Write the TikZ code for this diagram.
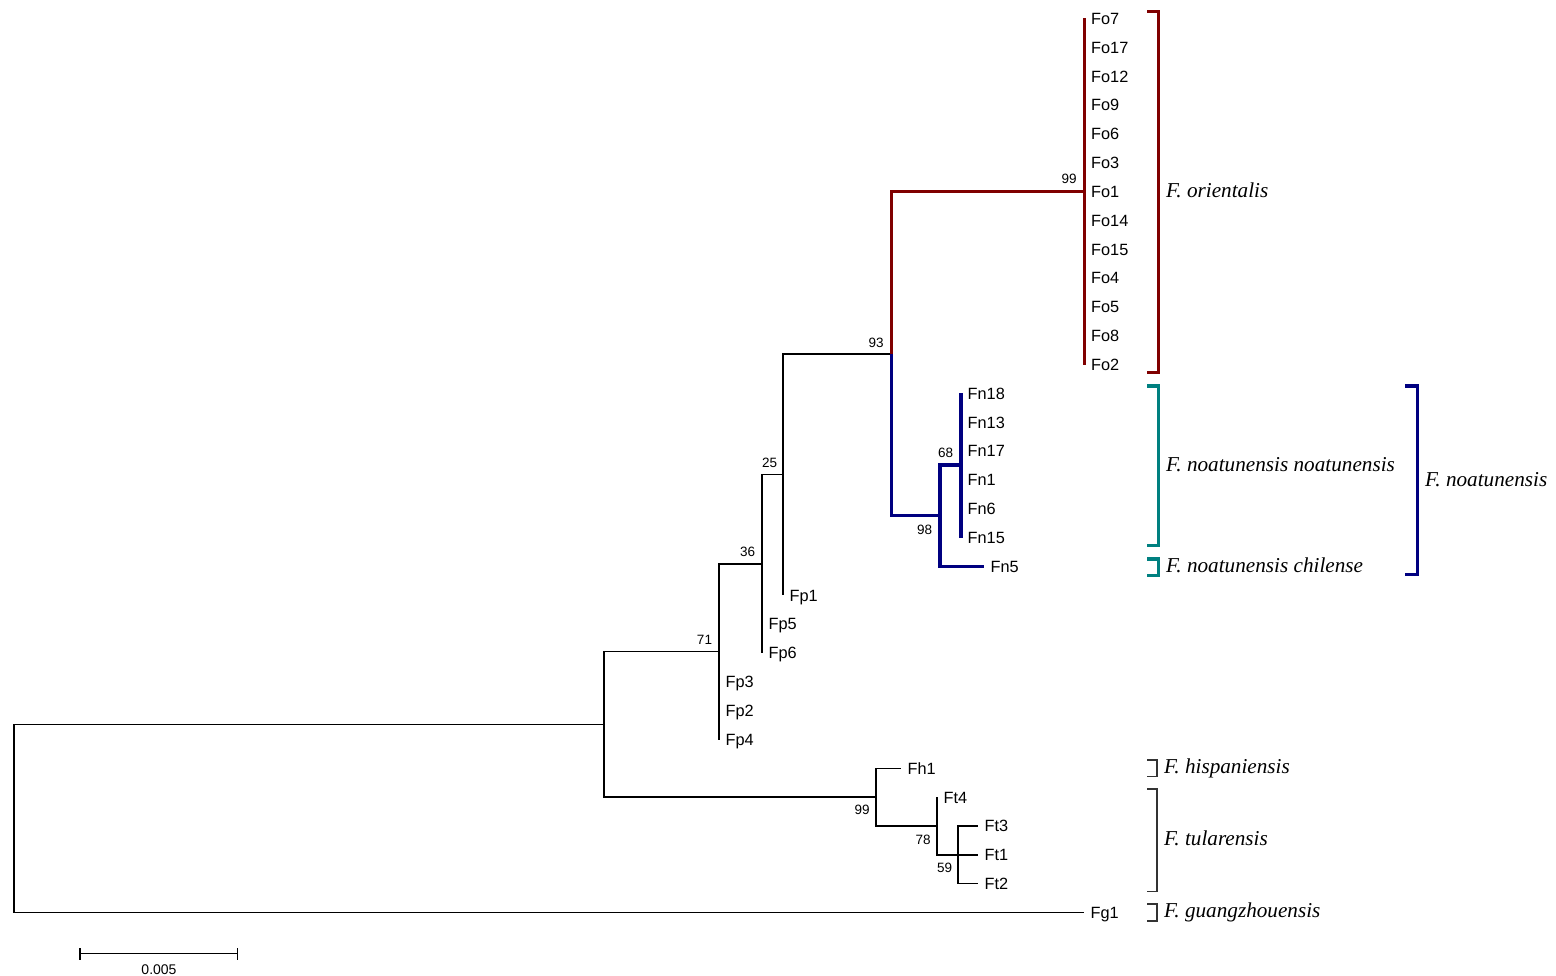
\documentclass[tikz,border=0pt]{standalone}
\usepackage{fontspec}
\setmainfont{Liberation Serif}
\newfontfamily\leaffont{Liberation Sans}
\definecolor{orired}{RGB}{128,0,0}
\definecolor{noablue}{RGB}{0,0,128}
\definecolor{noateal}{RGB}{0,128,128}
\begin{document}
\begin{tikzpicture}[x=1pt,y=-1pt,
  leaf/.style={anchor=west, inner xsep=6.5pt, inner ysep=0pt, text height=11.7pt, text depth=0pt, font=\leaffont\fontsize{16.3}{19}\selectfont},
  boot/.style={inner sep=0pt, font=\leaffont\fontsize{13.5}{16}\selectfont},
  taxon/.style={anchor=base west, inner sep=0pt, font=\itshape\fontsize{21.2}{25}\selectfont},
  branch/.style={line width=1.3pt, black},
  redbranch/.style={line width=3.5pt, orired},
  bluebranch/.style={line width=3.5pt, noablue},
  cbrk/.style={line width=3.5pt},
  kbrk/.style={line width=1.5pt, black!80}
]
\useasboundingbox (0,0) rectangle (1556,976);

% internal nodes
\coordinate (R) at (14,818);
\coordinate (A) at (604,724.3);
\coordinate (B71) at (719,651.3);
\coordinate (C36) at (762,564);
\coordinate (D25) at (783,474.7);
\coordinate (E93) at (891.5,354);
\coordinate (O99) at (1084.5,191.5);
\coordinate (N98) at (940,515.5);
\coordinate (N68) at (961,465);
\coordinate (H99) at (876,797);
\coordinate (T78) at (937,826);
\coordinate (T59) at (958,855);

% leaves
\node[leaf] (Fo7)  at (1084.5,18.5) {Fo7};
\node[leaf] (Fo17) at (1084.5,47.3) {Fo17};
\node[leaf] (Fo12) at (1084.5,76.2) {Fo12};
\node[leaf] (Fo9)  at (1084.5,105.0) {Fo9};
\node[leaf] (Fo6)  at (1084.5,133.9) {Fo6};
\node[leaf] (Fo3)  at (1084.5,162.7) {Fo3};
\node[leaf] (Fo1)  at (1084.5,191.5) {Fo1};
\node[leaf] (Fo14) at (1084.5,220.4) {Fo14};
\node[leaf] (Fo15) at (1084.5,249.2) {Fo15};
\node[leaf] (Fo4)  at (1084.5,278.1) {Fo4};
\node[leaf] (Fo5)  at (1084.5,306.9) {Fo5};
\node[leaf] (Fo8)  at (1084.5,335.7) {Fo8};
\node[leaf] (Fo2)  at (1084.5,364.6) {Fo2};
\node[leaf] (Fn18) at (961,393.4) {Fn18};
\node[leaf] (Fn13) at (961,422.3) {Fn13};
\node[leaf] (Fn17) at (961,451.1) {Fn17};
\node[leaf] (Fn1)  at (961,479.9) {Fn1};
\node[leaf] (Fn6)  at (961,508.8) {Fn6};
\node[leaf] (Fn15) at (961,537.6) {Fn15};
\node[leaf] (Fn5)  at (984,566.5) {Fn5};
\node[leaf] (Fp1)  at (783,595.3) {Fp1};
\node[leaf] (Fp5)  at (762,624.1) {Fp5};
\node[leaf] (Fp6)  at (762,653.0) {Fp6};
\node[leaf] (Fp3)  at (719,681.8) {Fp3};
\node[leaf] (Fp2)  at (719,710.7) {Fp2};
\node[leaf] (Fp4)  at (719,739.5) {Fp4};
\node[leaf] (Fh1)  at (901,768.3) {Fh1};
\node[leaf] (Ft4)  at (937,797.2) {Ft4};
\node[leaf] (Ft3)  at (978,826.0) {Ft3};
\node[leaf] (Ft1)  at (978,854.9) {Ft1};
\node[leaf] (Ft2)  at (978,883.7) {Ft2};
\node[leaf] (Fg1)  at (1084,912.5) {Fg1};

% black branches
\draw[branch] (R) |- (A);
\draw[branch] (R) |- (Fg1.west);
\draw[branch] (A) |- (B71);
\draw[branch] (A) |- (H99);
\draw[branch] (B71) |- (C36);
\draw[branch] (B71) |- (Fp4.west);
\draw[branch] (C36) |- (D25);
\draw[branch] (C36) |- (Fp6.west);
\draw[branch] (D25) |- (E93);
\draw[branch] (D25) |- (Fp1.west);
\draw[branch] (H99) |- (Fh1.west);
\draw[branch] (H99) |- (T78);
\draw[branch] (T78) |- (Ft4.west);
\draw[branch] (T78) |- (T59);
\draw[branch] (T59) |- (Ft3.west);
\draw[branch] (T59) |- (Ft1.west);
\draw[branch] (T59) |- (Ft2.west);

% coloured branches
\draw[redbranch] (E93) |- (O99);
\draw[redbranch] (Fo7.west) -- (Fo2.west);
\draw[bluebranch] (E93) |- (N98);
\draw[bluebranch] (N98) |- (N68);
\draw[bluebranch] (N98) |- (Fn5.west);
\draw[bluebranch] (Fn18.west) -- (Fn15.west);

% bootstrap values
\node[boot] (b99a) at (1069,179) {99};
\node[boot] (b93) at (876,343) {93};
\node[boot] (b68) at (945.5,453) {68};
\node[boot] (b98) at (924.5,530) {98};
\node[boot] (b25) at (769.5,463) {25};
\node[boot] (b36) at (747.5,552) {36};
\node[boot] (b71) at (704.5,640) {71};
\node[boot] (b99b) at (862,810) {99};
\node[boot] (b78) at (923,839.5) {78};
\node[boot] (b59) at (944.5,868) {59};

% brackets
\draw[cbrk, orired] (1147,11.5) -- (1158.5,11.5) -- (1158.5,372.5) -- (1147,372.5);
\draw[cbrk, noateal] (1147,386) -- (1158.5,386) -- (1158.5,545.5) -- (1147,545.5);
\draw[cbrk, noateal] (1147,559) -- (1158.5,559) -- (1158.5,575.5) -- (1147,575.5);
\draw[cbrk, noablue] (1405,386) -- (1417.5,386) -- (1417.5,574.5) -- (1405,574.5);
\draw[kbrk] (1147,760) -- (1157,760) -- (1157,776.5) -- (1147,776.5);
\draw[kbrk] (1147,789) -- (1157,789) -- (1157,891.5) -- (1147,891.5);
\draw[kbrk] (1147,904) -- (1157,904) -- (1157,921) -- (1147,921);

% taxon labels
\node[taxon] (tori) at (1166,198) {F. orientalis};
\node[taxon] (tnn) at (1166,471) {F. noatunensis noatunensis};
\node[taxon] (tnc) at (1166,572) {F. noatunensis chilense};
\node[taxon] (tn) at (1425,486) {F. noatunensis};
\node[taxon] (this) at (1164,773.5) {F. hispaniensis};
\node[taxon] (ttul) at (1164,845) {F. tularensis};
\node[taxon] (tgua) at (1164,917) {F. guangzhouensis};

% scale bar
\coordinate (s1) at (80,953.5);
\coordinate (s2) at (237.5,953.5);
\draw[branch] (s1) -- (s2);
\draw[branch] ([yshift=-6pt]s1) -- ([yshift=6pt]s1);
\draw[branch] ([yshift=-6pt]s2) -- ([yshift=6pt]s2);
\node[boot, font=\leaffont\fontsize{14}{17}\selectfont] (sl) at (159,969.5) {0.005};
\end{tikzpicture}
\end{document}
